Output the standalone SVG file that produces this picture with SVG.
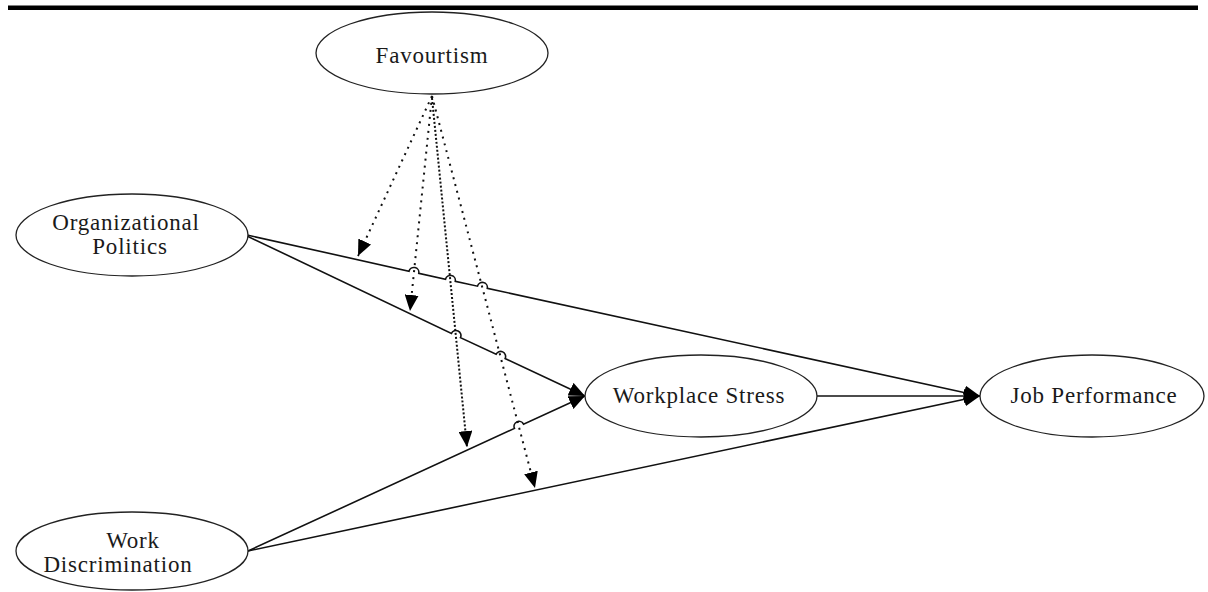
<svg xmlns="http://www.w3.org/2000/svg" width="1208" height="592" viewBox="0 0 1208 592">
<style>
.node ellipse{fill:#fff;stroke:#222;stroke-width:1.3}
.node text{font-family:"Liberation Serif","Times New Roman",serif;font-size:23px;letter-spacing:0.8px;fill:#1a1a1a;text-anchor:middle}
.solid{fill:none;stroke:#111;stroke-width:1.6}
.dot{fill:none;stroke:#111;stroke-width:2;stroke-dasharray:2 5}
.dense{fill:none;stroke:#111;stroke-width:2;stroke-dasharray:2 2}
</style>
<defs>
<marker id="ah" markerUnits="userSpaceOnUse" markerWidth="18" markerHeight="14" refX="16" refY="7" orient="auto">
<path d="M0,0 L16,7 L0,14 Z" fill="#000"/>
</marker>
</defs>
<rect x="8" y="5.5" width="1190" height="4.5" fill="#000"/>
<g id="connectors">
<path class="solid" d="M247,235 L409.02,271.19 A5,5 0 0 1 418.78,273.33 L445.52,279.18 A5,5 0 0 1 455.28,281.32 L477.52,286.16 A5,5 0 0 1 487.28,288.30 L980,396" marker-end="url(#ah)"/>
<path class="solid" d="M247,236 L451.42,333.38 A5,5 0 0 1 460.48,337.62 L496.07,354.31 A5,5 0 0 1 505.13,358.55 L585,396" marker-end="url(#ah)"/>
<path class="solid" d="M248,551 L514.46,428.39 A5,5 0 0 1 523.54,424.21 L585,396" marker-end="url(#ah)"/>
<path class="solid" d="M248,551 L980,396" marker-end="url(#ah)"/>
<path class="solid" d="M817,396 L980,396" marker-end="url(#ah)"/>
<path class="dot" d="M432,96 L358,256" marker-end="url(#ah)"/>
<path class="dot" d="M432,96 L410,311" marker-end="url(#ah)"/>
<path class="dense" d="M432,98 L467,447" marker-end="url(#ah)"/>
<path class="dot" d="M432,96 L535,488" marker-end="url(#ah)"/>
</g>
<g id="favourtism" class="node">
<ellipse cx="432" cy="53" rx="116" ry="41"/>
<text x="432" y="63">Favourtism</text>
</g>
<g id="organizational-politics" class="node">
<ellipse cx="132" cy="235" rx="116" ry="41"/>
<text x="126" y="230">Organizational</text>
<text x="130" y="254">Politics</text>
</g>
<g id="work-discrimination" class="node">
<ellipse cx="132" cy="551" rx="116" ry="39"/>
<text x="133" y="548">Work</text>
<text x="118" y="572">Discrimination</text>
</g>
<g id="workplace-stress" class="node">
<ellipse cx="701" cy="396" rx="116" ry="41"/>
<text x="699" y="403">Workplace Stress</text>
</g>
<g id="job-performance" class="node">
<ellipse cx="1092" cy="396" rx="112" ry="41"/>
<text x="1094" y="403">Job Performance</text>
</g>
</svg>
